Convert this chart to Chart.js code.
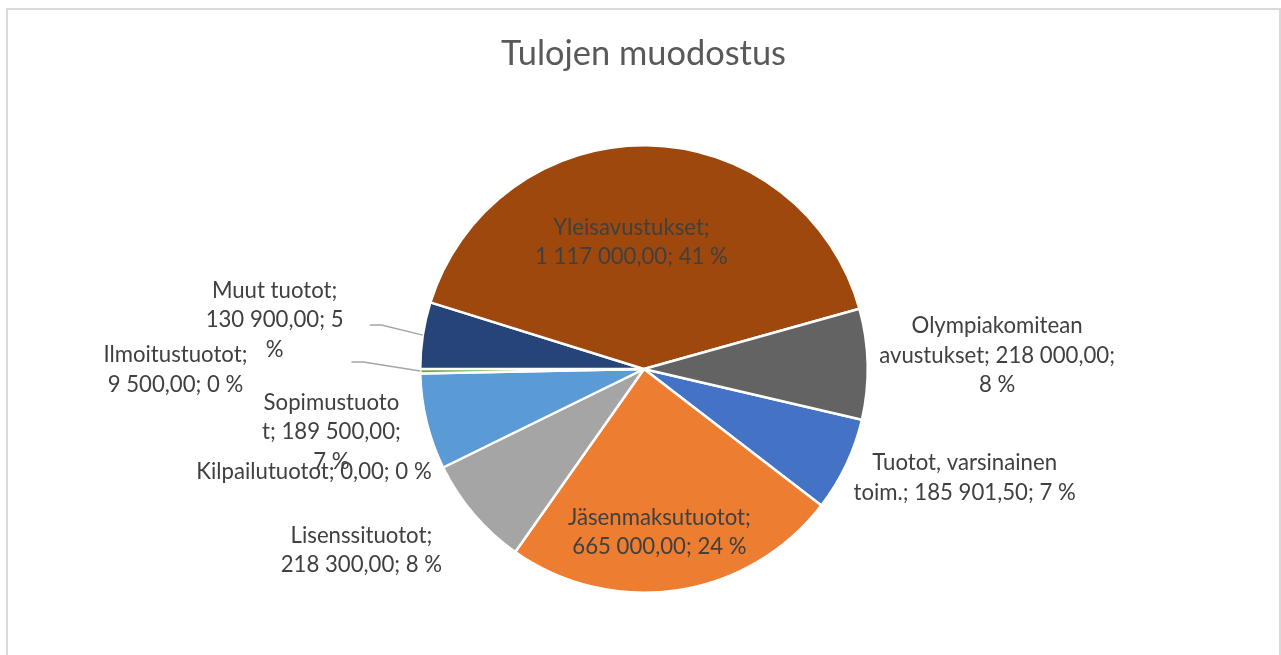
<!DOCTYPE html>
<html>
<head>
<meta charset="utf-8">
<script src="https://cdn.jsdelivr.net/npm/chart.js@4.4.1/dist/chart.umd.min.js"></script>
<style>
  html, body { margin: 0; padding: 0; background: #ffffff; }
  #wrap { position: relative; width: 1281px; height: 655px; }
</style>
</head>
<body>
<div id="wrap"><canvas id="c" width="1281" height="655"></canvas></div>
<script>
// ---- Data ----
const chartTitle = 'Tulojen muodostus';
const categories = [
  'Tuotot, varsinainen toim.',
  'Jäsenmaksutuotot',
  'Lisenssituotot',
  'Kilpailutuotot',
  'Sopimustuotot',
  'Ilmoitustuotot',
  'Muut tuotot',
  'Yleisavustukset',
  'Olympiakomitean avustukset'
];
const values = [185901.50, 665000, 218300, 0, 189500, 9500, 130900, 1117000, 218000];
const colors = ['#4472C4', '#ED7D31', '#A5A5A5', '#FFC000', '#5B9BD5', '#70AD47', '#264478', '#9E480E', '#636363'];

// ---- Label layout (positions relative to pie centre, in units of radius) ----
const labelPos = [
  [1.433, 0.487], [0.069, 0.730], [-1.263, 0.810], [-1.475, 0.460], [-1.397, 0.281],
  [-2.094, 0.004], [-1.651, -0.219], [-0.056, -0.567], [1.578, -0.060]
];
// character indices where the label text wraps (as in the original)
const labelBreaks = [
  [19], [17], [15], [], [12, 27], [15], [12, 26], [16], [15, 39]
];
// leader lines: [start dx, start dy] from label centre in px, or null
const leaders = [null, null, null, null, null, [176, -8], [95, 5], null, null];

const total = values.reduce((a, b) => a + b, 0);
function fmtNum(v) {
  const parts = v.toFixed(2).split('.');
  parts[0] = parts[0].replace(/\B(?=(\d{3})+(?!\d))/g, ' ');
  return parts[0] + ',' + parts[1];
}
function labelText(i) {
  const pct = Math.round(values[i] / total * 100);
  return categories[i] + '; ' + fmtNum(values[i]) + '; ' + pct + ' %';
}
function wrapAt(text, breaks) {
  const lines = [];
  let prev = 0;
  breaks.forEach(b => { lines.push(text.slice(prev, b).trim()); prev = b; });
  lines.push(text.slice(prev).trim());
  return lines;
}

const FONT = 'Lato, "Open Sans", sans-serif';

const decorPlugin = {
  id: 'decor',
  beforeDraw(chart) {
    const ctx = chart.ctx;
    ctx.save();
    ctx.fillStyle = '#ffffff';
    ctx.fillRect(0, 0, chart.width, chart.height);
    ctx.strokeStyle = '#d9d9d9';
    ctx.lineWidth = 2;
    ctx.strokeRect(7, 9, chart.width - 8, chart.height + 20);
    // title
    ctx.fillStyle = '#595959';
    ctx.textAlign = 'center';
    ctx.textBaseline = 'alphabetic';
    ctx.font = '30px ' + FONT;
    const w = ctx.measureText(chartTitle).width;
    const ts = 30 * 285 / w;
    ctx.font = ts.toFixed(2) + 'px ' + FONT;
    ctx.fillText(chartTitle, 643.5, 65);
    ctx.restore();
  },
  afterDatasetsDraw(chart) {
    const ctx = chart.ctx;
    const meta = chart.getDatasetMeta(0);
    ctx.save();
    ctx.font = '24px ' + FONT;
    const mw = ctx.measureText('Olympiakomitean').width;
    const fs = 24 * 171 / mw;
    ctx.font = fs.toFixed(2) + 'px ' + FONT;
    ctx.textAlign = 'center';
    ctx.textBaseline = 'middle';
    const lh = 29.5;
    meta.data.forEach((arc, i) => {
      const p = arc.getProps(['x', 'y', 'outerRadius', 'startAngle', 'endAngle'], true);
      const cx = p.x + labelPos[i][0] * p.outerRadius;
      const cy = p.y + labelPos[i][1] * p.outerRadius;
      const lines = wrapAt(labelText(i), labelBreaks[i]);
      const y0 = cy - (lines.length - 1) * lh / 2;
      ctx.fillStyle = '#404040';
      lines.forEach((ln, k) => ctx.fillText(ln, cx, y0 + k * lh));
      if (leaders[i]) {
        const mid = (p.startAngle + p.endAngle) / 2;
        const ex = p.x + Math.cos(mid) * p.outerRadius;
        const ey = p.y + Math.sin(mid) * p.outerRadius;
        const sx = cx + leaders[i][0];
        const sy = cy + leaders[i][1];
        ctx.strokeStyle = '#a6a6a6';
        ctx.lineWidth = 1.5;
        ctx.beginPath();
        ctx.moveTo(sx, sy);
        ctx.lineTo(sx + 12, sy);
        ctx.lineTo(ex, ey);
        ctx.stroke();
      }
    });
    ctx.restore();
  }
};

new Chart(document.getElementById('c'), {
  type: 'pie',
  data: {
    labels: categories,
    datasets: [{
      data: values,
      backgroundColor: colors,
      borderColor: '#ffffff',
      borderWidth: 2.5,
      borderAlign: 'center'
    }]
  },
  options: {
    responsive: false,
    animation: false,
    devicePixelRatio: 1,
    rotation: 103.1,
    layout: { padding: { top: 144, bottom: 61, left: 7, right: 0 } },
    plugins: {
      legend: { display: false },
      title: { display: false },
      tooltip: { enabled: false }
    }
  },
  plugins: [decorPlugin]
});
</script>
</body>
</html>
